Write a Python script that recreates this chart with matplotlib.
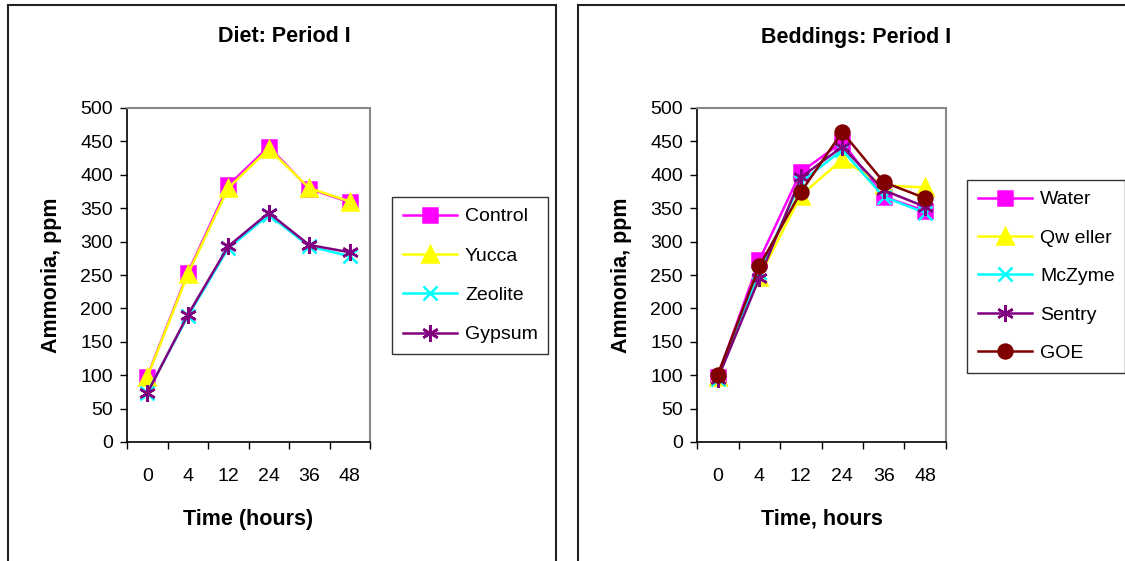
import matplotlib
matplotlib.use('Agg')
import matplotlib.pyplot as plt
from matplotlib.patches import Rectangle

plt.rcParams['font.family'] = ['Liberation Sans', 'DejaVu Sans']

hours = ['0', '4', '12', '24', '36', '48']

# diet, period I
control = [98, 253, 384, 442, 379, 359]
yucca = [97, 251, 380, 439, 380, 360]
zeolite = [74, 188, 290, 340, 293, 278]
gypsum = [73, 190, 293, 343, 295, 284]

# beddings, period I
water = [98, 272, 404, 449, 367, 346]
qweller = [97, 247, 369, 423, 384, 381]
mczyme = [95, 255, 389, 437, 367, 343]
sentry = [95, 245, 396, 442, 377, 352]
goe = [101, 263, 374, 464, 389, 365]

W, H = 1125, 561
fig = plt.figure(figsize=(W / 100, H / 100), dpi=100)

# panel frames (bottom edge runs off the picture)
fig.patches.append(Rectangle((8 / W, -0.05), 548 / W, 1.05 - 5 / H, transform=fig.transFigure,
                             fill=False, edgecolor='#222222', linewidth=1.5))
fig.patches.append(Rectangle((578 / W, -0.05), 600 / W, 1.05 - 5 / H, transform=fig.transFigure,
                             fill=False, edgecolor='#222222', linewidth=1.5))


def panel(x0, x1, title, title_x, xlabel, series, legx, legy, spacing):
    ax = fig.add_axes([x0 / W, (H - 442) / H, (x1 - x0) / W, (442 - 108) / H])
    x = range(len(hours))
    for vals, lab, col, mk, ms in series:
        ax.plot(x, vals, color=col, marker=mk, markersize=ms, linewidth=1.8,
                markeredgewidth=1.8, label=lab)
    ax.set_xlim(-0.5, len(hours) - 0.5)
    ax.set_ylim(0, 500)
    ax.set_yticks(range(0, 501, 50))
    ax.set_xticks([i for i in x])
    ax.set_xticklabels(hours)
    ax.set_xticks([i - 0.5 for i in range(len(hours) + 1)], minor=True)
    ax.tick_params(axis='x', which='major', length=0, labelsize=14, pad=19)
    ax.tick_params(axis='x', which='minor', length=5, direction='out', width=1)
    ax.tick_params(axis='y', length=5, direction='out', labelsize=14, width=1, pad=5)
    for s in ['top', 'right']:
        ax.spines[s].set_color('#888888')
        ax.spines[s].set_linewidth(1.5)
    for s in ['left', 'bottom']:
        ax.spines[s].set_color('black')
        ax.spines[s].set_linewidth(1.2)
    ax.set_ylabel('Ammonia, ppm', fontsize=15.5, fontweight='bold', labelpad=13)
    ax.set_xlabel(xlabel, fontsize=15.5, fontweight='bold', labelpad=17)
    fig.text(title_x / W, 1 - 37 / H, title, ha='center', va='center',
             fontsize=15.5, fontweight='bold')
    leg = ax.legend(loc='upper left', bbox_to_anchor=(legx / W, 1 - legy / H),
                    bbox_transform=fig.transFigure, fontsize=14, frameon=True,
                    fancybox=False, handlelength=2.8, borderpad=0.55,
                    labelspacing=spacing, handletextpad=0.4, borderaxespad=0)
    leg.get_frame().set_edgecolor('black')
    leg.get_frame().set_linewidth(1)
    return ax


star = (6, 2, 0)
panel(127, 370, 'Diet: Period I', 284, 'Time (hours)', [
    (control, 'Control', '#FF00FF', 's', 10),
    (yucca, 'Yucca', '#FFFF00', '^', 11),
    (zeolite, 'Zeolite', '#00FFFF', 'x', 10),
    (gypsum, 'Gypsum', '#800080', star, 12),
], 392, 197, 1.12)

panel(697, 946, 'Beddings: Period I', 856, 'Time, hours', [
    (water, 'Water', '#FF00FF', 's', 10),
    (qweller, 'Qw eller', '#FFFF00', '^', 11),
    (mczyme, 'McZyme', '#00FFFF', 'x', 10),
    (sentry, 'Sentry', '#800080', star, 12),
    (goe, 'GOE', '#800000', 'o', 10),
], 967, 180, 1.07)

fig.savefig('out.png', dpi=100)
